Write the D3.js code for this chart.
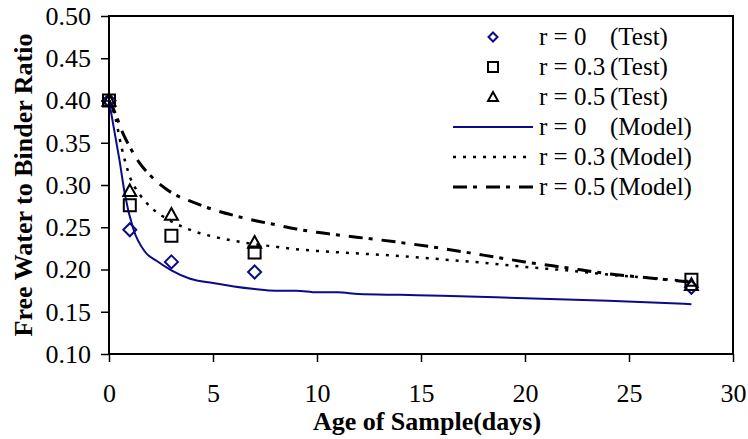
<!DOCTYPE html>
<html>
<head>
<meta charset="utf-8">
<script src="https://cdn.jsdelivr.net/npm/d3@7"></script>
<style>
  body { margin: 0; background: #fff; }
</style>
</head>
<body>
<div id="chart"></div>
<script>
const width = 748;
const height = 439;
const margin = {top: 16, right: 15, bottom: 85, left: 109};

const serif = "'Liberation Serif', 'Times New Roman', Times, serif";
const navy = "#0a0a8a";

// test data (days, ratio)
const testDays = [0, 1, 3, 7, 28];
const testR0 = [0.400, 0.247, 0.209, 0.197, 0.179];
const testR03 = [0.400, 0.276, 0.240, 0.220, 0.188];
const testR05 = [0.400, 0.293, 0.265, 0.232, 0.182];

// model curves
const modelDaysR0 = [0, 0.25, 0.5, 0.77, 1.17, 1.73, 2.3, 3, 3.9, 5, 6, 7, 8, 9, 10, 11, 12, 14, 16, 20, 24, 28];
const modelR0 = [0.400, 0.365, 0.330, 0.288, 0.248, 0.221, 0.210, 0.199, 0.189, 0.184, 0.180, 0.177, 0.175, 0.175, 0.173, 0.173, 0.171, 0.170, 0.169, 0.166, 0.163, 0.159];

const modelDays = [0, 0.3, 0.6, 1, 1.5, 2, 3, 4, 5, 6, 7, 8, 9, 10, 12, 14, 16, 18, 20, 22, 24, 26, 28];
const modelR03 = [0.400, 0.380, 0.345, 0.310, 0.288, 0.274, 0.257, 0.246, 0.239, 0.234, 0.230, 0.227, 0.224, 0.222, 0.219, 0.216, 0.212, 0.208, 0.203, 0.199, 0.194, 0.190, 0.186];
const modelR05 = [0.400, 0.385, 0.365, 0.345, 0.325, 0.311, 0.291, 0.280, 0.271, 0.264, 0.258, 0.253, 0.248, 0.244, 0.238, 0.232, 0.225, 0.217, 0.209, 0.202, 0.195, 0.190, 0.185];

const xTicks = [0, 5, 10, 15, 20, 25, 30];
const yTicks = [0.10, 0.15, 0.20, 0.25, 0.30, 0.35, 0.40, 0.45, 0.50];

const legendLabels = ["r = 0", "r = 0.3", "r = 0.5", "r = 0", "r = 0.3", "r = 0.5"];
const legendTags = ["(Test)", "(Test)", "(Test)", "(Model)", "(Model)", "(Model)"];

var svg = d3.select("#chart").append("svg")
  .attr("width", width)
  .attr("height", height)
  .style("font-family", serif);

var x = d3.scaleLinear().domain([0, 30]).range([margin.left, width - margin.right]);
var y = d3.scaleLinear().domain([0.10, 0.50]).range([height - margin.bottom, margin.top]);

// axes
svg.append("g")
  .attr("transform", "translate(0," + (height - margin.bottom) + ")")
  .call(d3.axisBottom(x).tickValues(xTicks).tickSize(8).tickPadding(22).tickFormat(d3.format("d")))
  .attr("font-family", null)
  .call(g => g.select(".domain").remove())
  .call(g => g.selectAll("line").attr("stroke-width", 1.5))
  .call(g => g.selectAll("text").style("font-size", "26px").style("font-family", serif));

svg.append("g")
  .attr("transform", "translate(" + margin.left + ",0)")
  .call(d3.axisLeft(y).tickValues(yTicks).tickSize(8).tickPadding(10).tickFormat(d3.format(".2f")))
  .attr("font-family", null)
  .call(g => g.select(".domain").remove())
  .call(g => g.selectAll("line").attr("stroke-width", 1.5))
  .call(g => g.selectAll("text").style("font-size", "26px").style("font-family", serif));

// frame
svg.append("rect")
  .attr("x", x(0)).attr("y", y(0.5))
  .attr("width", x(30) - x(0)).attr("height", y(0.1) - y(0.5))
  .attr("fill", "none").attr("stroke", "#000").attr("stroke-width", 2);

// axis titles
svg.append("text")
  .attr("x", 427)
  .attr("y", 430)
  .attr("text-anchor", "middle")
  .style("font-family", serif)
  .style("font-size", "26px").style("font-weight", "bold")
  .text("Age of Sample(days)");

svg.append("text")
  .attr("transform", "translate(32," + (y(0.1) + y(0.5)) / 2 + ") rotate(-90)")
  .attr("text-anchor", "middle")
  .style("font-family", serif)
  .style("font-size", "26px").style("font-weight", "bold")
  .text("Free Water to Binder Ratio");

// model lines
var line = d3.line()
  .x(d => x(d[0]))
  .y(d => y(d[1]))
  .curve(d3.curveMonotoneX);

const models = [
  {days: modelDaysR0, vals: modelR0, color: navy, w: 2, dash: null},
  {days: modelDays, vals: modelR03, color: "#000", w: 2.5, dash: "3,7"},
  {days: modelDays, vals: modelR05, color: "#000", w: 3, dash: "14,6,4,9"}
];

svg.selectAll("path.model").data(models).enter().append("path")
  .attr("class", "model")
  .attr("d", d => line(d.days.map((t, i) => [t, d.vals[i]])))
  .attr("fill", "none")
  .attr("stroke", d => d.color)
  .attr("stroke-width", d => d.w)
  .attr("stroke-dasharray", d => d.dash);

// test markers
function diamondPath(s) {
  return "M0," + (-s) + "L" + s + ",0L0," + s + "L" + (-s) + ",0Z";
}
function squarePath(s) {
  return "M" + (-s) + "," + (-s) + "H" + s + "V" + s + "H" + (-s) + "Z";
}
function trianglePath(s) {
  return "M0," + (-s) + "L" + s + "," + (s * 0.8) + "L" + (-s) + "," + (s * 0.8) + "Z";
}

const tests = [
  {vals: testR0, shape: diamondPath, size: 6.5, color: navy},
  {vals: testR03, shape: squarePath, size: 6, color: "#000"},
  {vals: testR05, shape: trianglePath, size: 6.5, color: "#000"}
];

tests.forEach(function (t) {
  svg.selectAll(null).data(testDays.map((d, i) => [d, t.vals[i]])).enter().append("path")
    .attr("d", t.shape(t.size))
    .attr("transform", d => "translate(" + x(d[0]) + "," + y(d[1]) + ")")
    .attr("fill", "none")
    .attr("stroke", t.color)
    .attr("stroke-width", 2);
});

// legend
var legend = svg.append("g");
const legendY0 = 37, legendStep = 30;

legendLabels.forEach(function (lab, i) {
  var ly = legendY0 + i * legendStep;
  if (i < 3) {
    legend.append("path")
      .attr("d", tests[i].shape(i === 0 ? 4.5 : 5))
      .attr("transform", "translate(493," + ly + ")")
      .attr("fill", "none")
      .attr("stroke", tests[i].color)
      .attr("stroke-width", 2);
  } else {
    var m = models[i - 3];
    legend.append("line")
      .attr("x1", 453).attr("x2", 533)
      .attr("y1", ly).attr("y2", ly)
      .attr("stroke", m.color)
      .attr("stroke-width", m.w)
      .attr("stroke-dasharray", m.dash);
  }
  legend.append("text")
    .attr("x", 539).attr("y", ly + 8)
    .style("font-family", serif)
    .style("font-size", "25px")
    .text(lab);
  legend.append("text")
    .attr("x", 610).attr("y", ly + 8)
    .style("font-family", serif)
    .style("font-size", "25px")
    .text(legendTags[i]);
});
</script>
</body>
</html>
